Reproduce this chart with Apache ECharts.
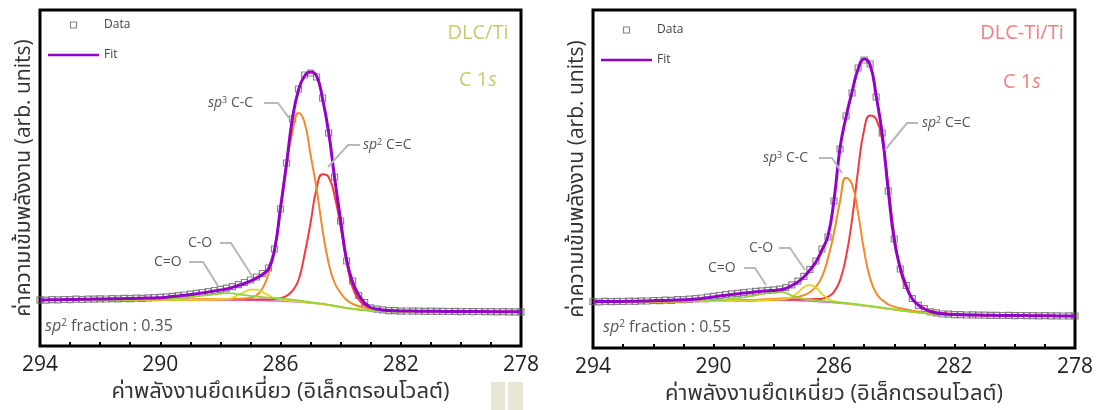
<!DOCTYPE html>
<html><head><meta charset="utf-8">
<script src="https://cdn.jsdelivr.net/npm/echarts@6/dist/echarts.min.js"></script>
<style>html,body{margin:0;padding:0;background:#fff}#c{width:1102px;height:410px}</style>
</head><body><div id="c"></div>
<script>
// Binding energy (eV), common sampling for both panels
const energy = [294.0,293.8,293.6,293.4,293.2,293.0,292.8,292.6,292.4,292.2,
 292.0,291.8,291.6,291.4,291.2,291.0,290.8,290.6,290.4,290.2,
 290.0,289.8,289.6,289.4,289.2,289.0,288.8,288.6,288.4,288.2,
 288.0,287.8,287.6,287.4,287.2,287.0,286.8,286.6,286.4,286.2,
 286.0,285.8,285.6,285.4,285.2,285.0,284.8,284.6,284.4,284.2,
 284.0,283.8,283.6,283.4,283.2,283.0,282.8,282.6,282.4,282.2,
 282.0,281.8,281.6,281.4,281.2,281.0,280.8,280.6,280.4,280.2,
 280.0,279.8,279.6,279.4,279.2,279.0,278.8,278.6,278.4,278.2,
 278.0];
const xTicks = [294,290,286,282,278];

// ---- Panel 1: DLC/Ti ----
const dataL = [46.2,45.9,46.3,46.1,46.5,46.4,46.8,46.5,46.9,46.8,
 47.1,47,47.4,47.2,47.6,47.4,47.9,47.7,48.2,48.3,
 48.6,49.1,49.6,50.4,51,51.9,52.6,53.5,54.4,55.5,
 56.6,57.8,59.3,61.4,63.5,66,69,72.5,78,97,
 137,183,227,257,271,273,269,248,213,169,
 125,85,65,50.5,43.5,38.2,36.8,36.2,35.4,35.3,
 34.9,35,34.8,34.9,34.7,34.8,34.6,34.7,34.5,34.6,
 34.4,34.5,34.3,34.5,34.3,34.4,34.2,34.3,34.1,34.2,
 34.1];
const fitL = [46,46.1,46.2,46.3,46.4,46.5,46.6,46.7,46.8,46.9,
 47,47.1,47.2,47.3,47.4,47.5,47.7,47.8,48,48.1,
 48.3,48.8,49.4,50,50.7,51.5,52.2,53,54,55,
 56,57,58.6,60.5,62.5,65,68,71.5,77,96,
 138,182,228,256,270,274,270,247,214,168,
 126,86,64,51,43,38.5,37,36,35.5,35.2,
 35,34.9,34.9,34.8,34.8,34.7,34.7,34.6,34.6,34.5,
 34.5,34.5,34.4,34.4,34.4,34.3,34.3,34.3,34.2,34.2,
 34.2];
const bgL = [46,46,46,46,46,46,46,46,46,46,
 46,46,46,46,46,46,46.2,46.2,46.2,46.2,
 46.2,46.2,46.2,46.2,46.2,46.2,46.2,46.2,46.2,46.2,
 46.2,46.2,46.1,46,45.9,45.8,45.6,45.4,45.2,45,
 44.8,44.6,44.3,44,43.5,43,42.4,41.8,41,40,
 39,38,37.2,36.5,36,35.5,35.1,34.8,34.6,34.5,
 34.5,34.5,34.5,34.5,34.5,34.4,34.4,34.4,34.4,34.3,
 34.3,34.3,34.3,34.3,34.2,34.2,34.2,34.2,34.1,34.1,
 34.1];
// component heights above the background
const sp2L = [0,0,0,0,0,0,0,0,0,0,
 0,0,0,0,0,0,0,0,0,0,
 0,0,0,0,0,0.1,0.2,0.2,0.2,0.2,
 0.3,0.3,0.4,0.4,0.5,0.6,0.8,1,1.3,1.8,
 3,5.5,11,22,48,80,115,130,128,110,
 80,46,21,10,4.7,2.5,1.6,1.1,0.8,0.6,
 0.5,0.4,0.4,0.3,0.3,0.2,0.1,0.1,0.1,0.1,
 0.1,0,0,0,0,0,0,0,0,0,
 0];
const sp3L = [0.1,0.1,0.1,0.1,0.1,0.1,0.1,0.1,0.1,0.1,
 0.2,0.2,0.2,0.2,0.2,0.2,0.2,0.2,0.2,0.2,
 0.2,0.2,0.3,0.3,0.3,0.3,0.4,0.4,0.5,0.5,
 0.6,0.7,0.9,1.2,1.6,2.6,5,12,27,50,
 94,137,170,189,180,148,115,74,42,23,
 14,8,5,3.2,2.4,1.8,1.4,1.1,0.9,0.7,
 0.6,0.5,0.4,0.4,0.3,0.3,0.2,0.2,0.2,0.2,
 0.2,0.1,0.1,0.1,0.1,0.1,0.1,0.1,0.1,0.1,
 0.1];
const coL = [0,0,0,0,0,0,0,0,0,0,
 0,0,0,0,0,0,0,0,0,0,
 0,0,0,0,0,0,0,0.1,0.2,0.3,
 0.5,1,2,5,8,10.5,10.8,8.5,5.5,3,
 1.8,1.2,0.7,0.4,0.3,0.2,0.1,0,0,0,
 0,0,0,0,0,0,0,0,0,0,
 0,0,0,0,0,0,0,0,0,0,
 0,0,0,0,0,0,0,0,0,0,
 0];
const cdoL = [0,0,0,0,0,0,0,0,0,0,
 0,0,0,0.1,0.2,0.2,0.3,0.4,0.5,0.6,
 0.8,1,1.3,1.7,2.2,2.8,3.4,4.1,4.8,5.5,
 6.2,6.7,6.6,5.8,5,4.4,4,3.5,3.2,3,
 2.7,2.3,2,1.6,1.2,0.9,0.6,0.5,0.3,0.2,
 0.1,0,0,0,0,0,0,0,0,0,
 0,0,0,0,0,0,0,0,0,0,
 0,0,0,0,0,0,0,0,0,0,
 0];

// ---- Panel 2: DLC-Ti/Ti ----
const dataR = [46.5,46.2,46.6,46.3,46.7,46.5,46.9,46.7,47.1,47,
 47.5,47.4,47.8,47.7,48.3,48.4,48.9,49.3,50,50.8,
 51.6,52.5,53.3,54.1,54.6,55.4,56,56.6,57.1,57.6,
 58.1,58.8,60.3,63.2,66.8,71.6,78.5,87,99,111,
 147,199,232,255,280,288,284,251,215,157,
 109,79,62.5,49.5,42.6,39.3,36.2,35.2,34,33.9,
 33.3,33.3,33,33.1,32.8,32.9,32.6,32.7,32.5,32.6,
 32.4,32.5,32.3,32.4,32.2,32.3,32.1,32.2,32,32.1,
 32];
const fitR = [46.3,46.4,46.4,46.5,46.5,46.6,46.7,46.8,46.9,47.1,
 47.3,47.5,47.6,47.8,48,48.2,48.5,48.9,49.5,50.2,
 51,52,52.8,53.6,54.3,55,55.6,56.2,56.7,57.2,
 57.6,58.2,59.6,62.5,66,71,78,86,98,112,
 148,200,231,256,279,289,283,252,214,158,
 108,80,62,49,43,39,36.5,35,34.2,33.7,
 33.4,33.2,33.1,33,32.9,32.8,32.7,32.6,32.6,32.5,
 32.5,32.4,32.4,32.3,32.3,32.2,32.2,32.1,32.1,32,
 32];
const bgR = [46.3,46.3,46.3,46.4,46.4,46.4,46.4,46.5,46.5,46.5,
 46.5,46.6,46.6,46.6,46.6,46.7,46.8,46.8,46.8,46.8,
 46.9,46.9,47,47,47.1,47.2,47.3,47.4,47.5,47.6,
 47.7,47.7,47.6,47.5,47.3,47.1,46.8,46.5,46.1,45.7,
 45.2,44.7,44.2,43.6,42.9,42.2,41.4,40.7,39.9,39.1,
 38.3,37.5,36.8,36.1,35.4,34.8,34.3,33.9,33.5,33.2,
 33,32.9,32.8,32.7,32.6,32.5,32.5,32.4,32.4,32.3,
 32.3,32.3,32.2,32.2,32.2,32.1,32.1,32.1,32,32,
 32];
const sp2R = [0,0,0,0,0,0,0,0,0,0,
 0,0,0,0,0,0,0,0,0,0,
 0.1,0.2,0.2,0.2,0.2,0.3,0.3,0.4,0.5,0.5,
 0.6,0.7,0.8,1,1.2,1.5,1.9,2.4,3.2,5.5,
 11,23,47,85,135,176,191,188,168,123,
 74,40,23,13.5,8,4.6,3,1.9,1.4,1.1,
 0.9,0.8,0.6,0.5,0.4,0.4,0.3,0.3,0.2,0.2,
 0.2,0.1,0.1,0.1,0.1,0.1,0,0,0,0,
 0];
const sp3R = [0,0,0,0,0,0,0,0,0,0,
 0,0,0,0,0,0.1,0.1,0.2,0.2,0.2,
 0.3,0.3,0.4,0.4,0.5,0.6,0.7,0.8,1,1.2,
 1.4,1.7,2.1,2.8,3.7,5.8,9,15,25,44,
 70,102,126,120,92,55,28,14,8,4.5,
 3,2.2,1.6,1.2,1,0.8,0.6,0.5,0.4,0.3,
 0.3,0.2,0.2,0.1,0.1,0.1,0,0,0,0,
 0,0,0,0,0,0,0,0,0,0,
 0];
const coR = [0,0,0,0,0,0,0,0,0,0,
 0,0,0,0,0,0,0,0,0,0,
 0,0,0,0,0,0,0.1,0.1,0.2,0.4,
 0.6,0.8,1.6,3.6,8,13.9,16,13.9,8,3.6,
 1.6,0.8,0.5,0.4,0.3,0.2,0.2,0.1,0,0,
 0,0,0,0,0,0,0,0,0,0,
 0,0,0,0,0,0,0,0,0,0,
 0,0,0,0,0,0,0,0,0,0,
 0];
const cdoR = [0,0,0,0,0,0,0,0,0,0,
 0,0,0,0,0.1,0.2,0.3,0.4,0.5,0.6,
 0.8,1.1,1.5,2.1,2.8,3.5,4.3,5.3,6.3,7.5,
 8.4,8.5,7.2,5,3,2,1.5,1.2,1,0.9,
 0.9,0.8,0.8,0.7,0.7,0.6,0.6,0.5,0.5,0.4,
 0.4,0.3,0.3,0.2,0.2,0.1,0.1,0,0,0,
 0,0,0,0,0,0,0,0,0,0,
 0,0,0,0,0,0,0,0,0,0,
 0];

const panels = [
  {data:dataL, fit:fitL, bg:bgL, sp2:sp2L, sp3:sp3L, co:coL, cdo:cdoL},
  {data:dataR, fit:fitR, bg:bgR, sp2:sp2R, sp3:sp3R, co:coR, cdo:cdoR}
];

const FONT = "'Open Sans','Noto Sans','Noto Sans Thai',sans-serif";
const xTitle = 'ค่าพลังงานยึดเหนี่ยว (อิเล็กตรอนโวลต์)';
const yTitle = 'ค่าความเข้มพลังงาน (arb. units)';
const C = {bg:'#d66fe0', sp2:'#f53a3c', sp3:'#f38a2a', co:'#e2d41f', cdo:'#93d43a', fit:'#9302c8', data:'#6a6a6a'};

const pts = arr => energy.map((e,i)=>[e, arr[i]]);
const onBg = (bg,arr) => energy.map((e,i)=>[e, +(bg[i]+arr[i]).toFixed(2)]);

const grids = [
  {left:40, top:10, width:481, height:336},
  {left:593, top:10, width:482, height:338}
].map(g=>Object.assign(g,{show:true, borderColor:'#000', borderWidth:3, backgroundColor:'#fff'}));

const xAxes = [0,1].map(i=>({
  type:'value', gridIndex:i, min:278, max:294, interval:1, inverse:true,
  axisLine:{show:false}, splitLine:{show:false},
  axisTick:{inside:true, length:4, lineStyle:{color:'#000', width:2}},
  axisLabel:{margin:9, fontSize:21, color:'#222', fontFamily:FONT,
    formatter:v=> xTicks.indexOf(v)>=0 ? String(v) : ''},
  name:xTitle, nameLocation:'middle', nameGap:34,
  nameTextStyle:{fontSize:22, color:'#333', fontFamily:FONT}
}));
const yAxes = [0,1].map(i=>({
  type:'value', gridIndex:i, min:0, max:[336,338][i],
  axisLine:{show:false}, axisTick:{show:false}, axisLabel:{show:false}, splitLine:{show:false},
  name:yTitle, nameLocation:'middle', nameGap:5,
  nameTextStyle:{fontSize:21, color:'#333', fontFamily:FONT}
}));

const series = [];
panels.forEach((p,i)=>{
  const base = {type:'line', xAxisIndex:i, yAxisIndex:i, symbol:'none', showSymbol:false, smooth:0.5, silent:true, animation:false};
  series.push(Object.assign({name:'Background', data:pts(p.bg), lineStyle:{color:C.bg,width:1.5}, itemStyle:{color:C.bg}}, base));
  series.push(Object.assign({name:'sp2 C=C', data:onBg(p.bg,p.sp2), lineStyle:{color:C.sp2,width:2}, itemStyle:{color:C.sp2}}, base));
  series.push(Object.assign({name:'sp3 C-C', data:onBg(p.bg,p.sp3), lineStyle:{color:C.sp3,width:2}, itemStyle:{color:C.sp3}}, base));
  series.push(Object.assign({name:'C-O', data:onBg(p.bg,p.co), lineStyle:{color:C.co,width:1.8}, itemStyle:{color:C.co}}, base));
  series.push(Object.assign({name:'C=O', data:onBg(p.bg,p.cdo), lineStyle:{color:C.cdo,width:1.8}, itemStyle:{color:C.cdo}}, base));
  series.push(Object.assign({name:'Fit', data:pts(p.fit), lineStyle:{color:C.fit,width:3}, itemStyle:{color:C.fit}}, base));
  series.push({name:'Data', type:'scatter', xAxisIndex:i, yAxisIndex:i, data:pts(p.data), symbol:'rect', symbolSize:6,
    itemStyle:{color:'rgba(255,255,255,0)', borderColor:C.data, borderWidth:1.2}, silent:true, animation:false});
});

const legendBase = {orient:'vertical', padding:0, itemWidth:51, itemHeight:6, itemGap:18, selectedMode:false, symbolKeepAspect:true,
  data:[
    {name:'Data', icon:'path://M0 0h10v10h-10z', itemStyle:{color:'rgba(255,255,255,0)', borderColor:'#6a6a6a', borderWidth:1.2}},
    {name:'Fit', icon:'path://M0 0h51v2.4h-51z', itemStyle:{color:'#9302c8', borderWidth:0}}
  ],
  textStyle:{fontSize:12, color:'#444', fontFamily:FONT}};
const legends = [Object.assign({left:48, top:19}, legendBase), Object.assign({left:601, top:24}, legendBase)];

const rich = {i:{fontStyle:'italic', fontSize:14, fill:'#555', fontFamily:FONT},
  s:{fontSize:9, fill:'#555', verticalAlign:'top', padding:[0,0,5,0], fontFamily:FONT}, n:{fontSize:14, fill:'#555', fontFamily:FONT}};
function lbl(x,y,t,size){
  const r = JSON.parse(JSON.stringify(rich));
  if(size){r.i.fontSize=size; r.n.fontSize=size; r.s.fontSize=Math.round(size*0.62);}
  return {type:'text', x:x, y:y, z:100, style:{text:t, rich:r, fill:'#555', font:(size||14)+'px '+FONT, align:'left', verticalAlign:'middle'}};
}
function lead(pts){return {type:'polyline', z:99, shape:{points:pts}, style:{stroke:'#b8b8b8', lineWidth:2, fill:null}};}
function head(x,y,t,col,size){return {type:'text', x:x, y:y, z:100, style:{text:t, fill:col, font:size+'px '+FONT, align:'center', verticalAlign:'middle',
  rich:{n:{fontSize:size, fill:col, fontFamily:FONT}, i:{fontSize:size, fill:col, fontStyle:'italic', fontFamily:FONT}}}};}

const graphic = [
  // panel 1
  lbl(208,103,'{i|sp}{s|3}{n| C-C}'), lead([[264,103],[278,103],[289,118]]),
  lbl(363,145,'{i|sp}{s|2}{n| C=C}'), lead([[360,145],[348,145],[328,167]]),
  lbl(188,243,'{n|C-O}'), lead([[220,243],[231,243],[252,276]]),
  lbl(154,262,'{n|C=O}'), lead([[189,262],[203,262],[218,286]]),
  lbl(45,326,'{i|sp}{s|2}{n| fraction : 0.35}',16),
  head(478,33,'{n|DLC/Ti}','#c6cc70',20), head(478,80,'{n|C 1}{i|s}','#c6cc70',20),
  // panel 2
  lbl(922,123,'{i|sp}{s|2}{n| C=C}'), lead([[918,123],[907,123],[885,150]]),
  lbl(763,158,'{i|sp}{s|3}{n| C-C}'), lead([[819,158],[832,158],[842,173]]),
  lbl(749,248,'{n|C-O}'), lead([[779,248],[790,248],[805,270]]),
  lbl(708,268,'{n|C=O}'), lead([[744,268],[755,268],[766,285]]),
  lbl(603,327,'{i|sp}{s|2}{n| fraction : 0.55}',16),
  head(1022,33,'{n|DLC-Ti/Ti}','#f47f7f',20), head(1022,82,'{n|C 1}{i|s}','#f47f7f',20),
  // decoration bottom
  {type:'rect', shape:{x:491,y:382,width:14,height:28}, style:{fill:'#ebe5d8'}},
  {type:'rect', shape:{x:508,y:382,width:15,height:28}, style:{fill:'#ebe5d8'}}
];

const chart = echarts.init(document.getElementById('c'), null, {renderer:'canvas'});
chart.setOption({animation:false, backgroundColor:'#fff', grid:grids, xAxis:xAxes, yAxis:yAxes, series:series, legend:legends, graphic:graphic});
</script></body></html>
